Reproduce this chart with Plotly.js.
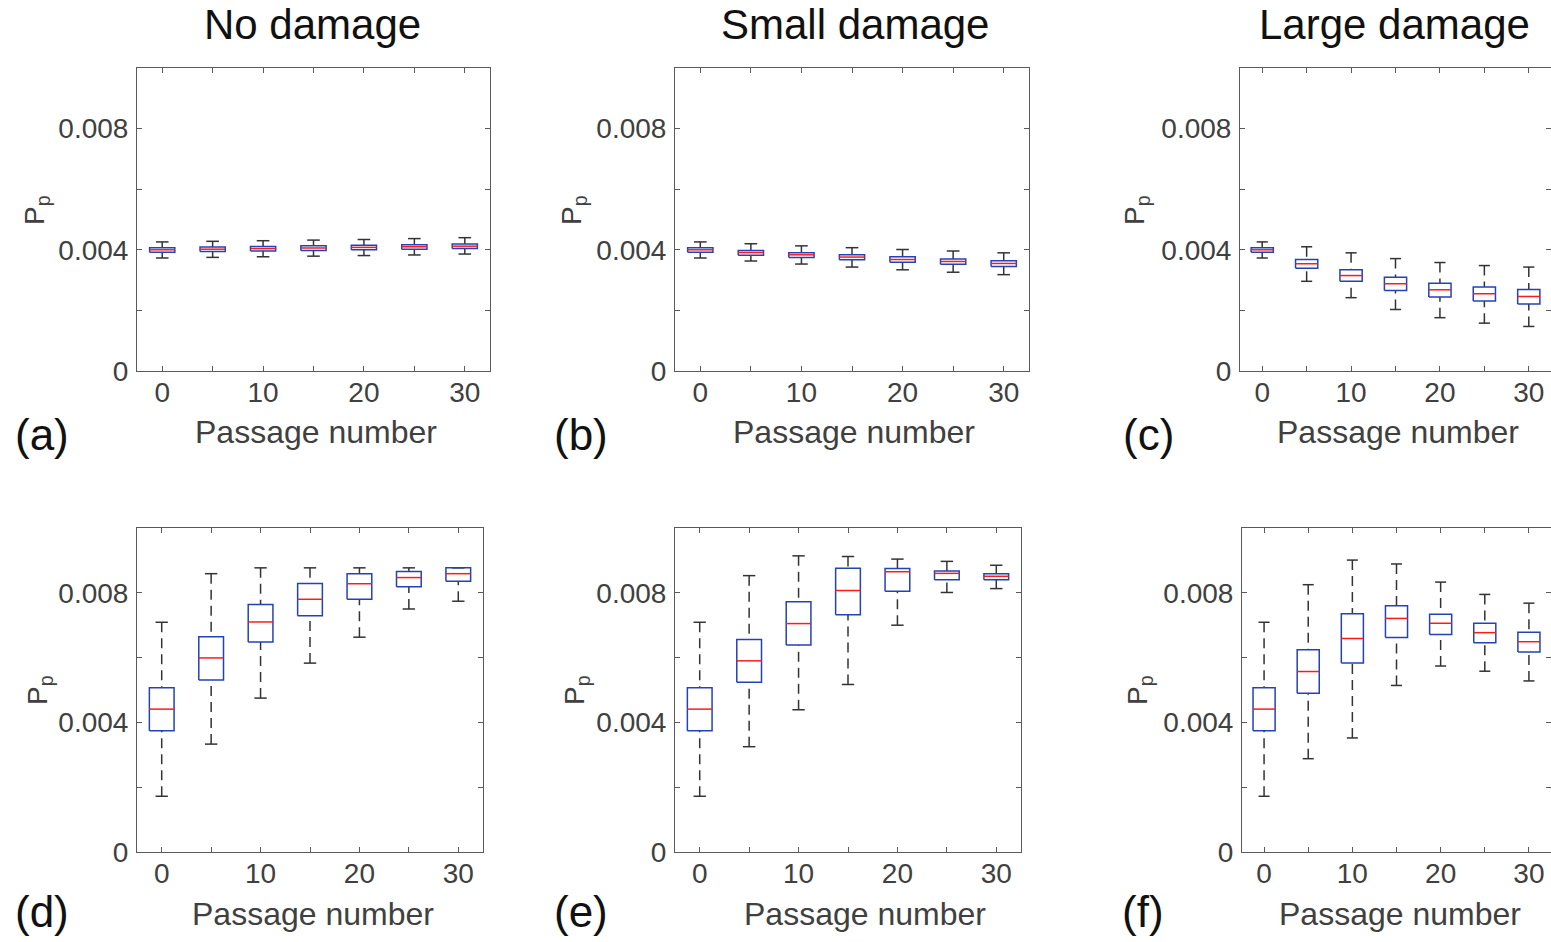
<!DOCTYPE html>
<html>
<head>
<meta charset="utf-8">
<script src="https://cdn.plot.ly/plotly-3.0.1.min.js"></script>
<style>html,body{margin:0;padding:0;background:#fff;}#chart{width:1551px;height:942px;}</style>
</head>
<body>
<div id="chart"></div>
<script>
// ---- data ----
const passages = [0, 5, 10, 15, 20, 25, 30];
const xTickVals = [0, 10, 20, 30];
const xTickText = ['0', '10', '20', '30'];
const yTickVals = [0, 0.004, 0.008];
const yTickText = ['0', '0.004', '0.008'];
const columnTitles = ['No damage', 'Small damage', 'Large damage'];
const panelLabels = ['(a)', '(b)', '(c)', '(d)', '(e)', '(f)'];

// (a) no damage, top
const aMed = [0.00400, 0.00402, 0.00404, 0.00406, 0.00408, 0.00410, 0.00412];
const aQ1  = [0.00392, 0.00394, 0.00396, 0.00398, 0.00400, 0.00402, 0.00404];
const aQ3  = [0.00407, 0.00409, 0.00411, 0.00413, 0.00415, 0.00417, 0.00419];
const aLo  = [0.00373, 0.00375, 0.00377, 0.00379, 0.00381, 0.00383, 0.00386];
const aHi  = [0.00426, 0.00428, 0.00430, 0.00432, 0.00434, 0.00437, 0.00440];
// (b) small damage, top
const bMed = [0.00400, 0.00391, 0.003835, 0.00376, 0.00368, 0.003615, 0.00355];
const bQ1  = [0.00392, 0.00382, 0.00375, 0.00367, 0.00359, 0.00352, 0.00345];
const bQ3  = [0.00407, 0.00398, 0.00390, 0.003835, 0.00377, 0.00370, 0.00364];
const bLo  = [0.00373, 0.00363, 0.00353, 0.00343, 0.00334, 0.00326, 0.00318];
const bHi  = [0.00426, 0.00420, 0.00413, 0.00407, 0.00401, 0.00396, 0.00390];
// (c) large damage, top
const cMed = [0.00400, 0.00354, 0.00315, 0.00288, 0.00268, 0.00255, 0.00246];
const cQ1  = [0.00392, 0.00339, 0.00296, 0.00266, 0.00244, 0.00231, 0.00221];
const cQ3  = [0.00407, 0.00368, 0.00334, 0.00309, 0.00290, 0.00277, 0.00269];
const cLo  = [0.00373, 0.00296, 0.00242, 0.00203, 0.00176, 0.00158, 0.00147];
const cHi  = [0.00426, 0.00410, 0.00390, 0.00371, 0.00358, 0.00348, 0.00343];
// (d) no damage, bottom
const dMed = [0.00441, 0.00599, 0.00710, 0.00780, 0.00828, 0.00847, 0.00859];
const dQ1  = [0.00374, 0.00531, 0.00648, 0.00729, 0.00780, 0.00819, 0.00836];
const dQ3  = [0.00507, 0.00664, 0.00764, 0.00829, 0.00859, 0.00866, 0.00877];
const dLo  = [0.00172, 0.00333, 0.00475, 0.00583, 0.00663, 0.00750, 0.00774];
const dHi  = [0.00709, 0.00859, 0.00877, 0.00877, 0.00877, 0.00877, 0.00877];
// (e) small damage, bottom
const eMed = [0.00441, 0.00590, 0.00705, 0.00807, 0.00865, 0.00860, 0.00851];
const eQ1  = [0.00374, 0.00524, 0.00639, 0.00732, 0.00805, 0.00840, 0.00840];
const eQ3  = [0.00507, 0.00656, 0.00772, 0.00876, 0.00875, 0.00867, 0.00859];
const eLo  = [0.00172, 0.00325, 0.00439, 0.00517, 0.00700, 0.00801, 0.00813];
const eHi  = [0.00709, 0.00853, 0.00914, 0.00912, 0.00904, 0.00897, 0.00885];
// (f) large damage, bottom
const fMed = [0.00441, 0.00557, 0.00659, 0.00721, 0.00706, 0.00677, 0.00649];
const fQ1  = [0.00374, 0.00490, 0.00583, 0.00662, 0.00671, 0.00646, 0.00617];
const fQ3  = [0.00507, 0.00624, 0.00735, 0.00760, 0.00734, 0.00706, 0.00678];
const fLo  = [0.00172, 0.00288, 0.00352, 0.00514, 0.00574, 0.00558, 0.00528];
const fHi  = [0.00709, 0.00825, 0.00901, 0.00889, 0.00833, 0.00795, 0.00768];

const panels = [
  {med: aMed, q1: aQ1, q3: aQ3, lo: aLo, hi: aHi},
  {med: bMed, q1: bQ1, q3: bQ3, lo: bLo, hi: bHi},
  {med: cMed, q1: cQ1, q3: cQ3, lo: cLo, hi: cHi},
  {med: dMed, q1: dQ1, q3: dQ3, lo: dLo, hi: dHi},
  {med: eMed, q1: eQ1, q3: eQ3, lo: eLo, hi: eHi},
  {med: fMed, q1: fQ1, q3: fQ3, lo: fLo, hi: fHi}
];

// ---- layout geometry (pixels) ----
const W = 1551, H = 942;
const xDomPx = [[137, 490], [675, 1029], [1240, 1551], [137, 483], [675, 1021], [1242, 1551]];
const yDomPx = [[68, 371], [68, 371], [68, 371], [528, 852], [528, 852], [528, 852]];
const BOX_HW = 1.25, CAP_HW = 0.625;
const FONT = 'Liberation Sans, Arial, Helvetica, sans-serif';
const BLUE = '#2442b8', RED = '#ff1a1a', WHISK = '#333333', AX = '#5a5a5a';

const traces = [];
const layout = {
  width: W, height: H,
  margin: {l: 0, r: 0, t: 0, b: 0},
  paper_bgcolor: '#ffffff', plot_bgcolor: '#ffffff',
  showlegend: false,
  annotations: []
};

panels.forEach((p, i) => {
  const n = i + 1;
  const xa = n === 1 ? 'x' : 'x' + n;
  const ya = n === 1 ? 'y' : 'y' + n;
  const bx = [], by = [], mx = [], my = [], wx = [], wy = [], cx = [], cy = [];
  passages.forEach((x, k) => {
    bx.push(x - BOX_HW, x + BOX_HW, x + BOX_HW, x - BOX_HW, x - BOX_HW, null);
    by.push(p.q1[k], p.q1[k], p.q3[k], p.q3[k], p.q1[k], null);
    mx.push(x - BOX_HW, x + BOX_HW, null);
    my.push(p.med[k], p.med[k], null);
    wx.push(x, x, null, x, x, null);
    wy.push(p.hi[k], p.q3[k], null, p.lo[k], p.q1[k], null);
    cx.push(x - CAP_HW, x + CAP_HW, null, x - CAP_HW, x + CAP_HW, null);
    cy.push(p.hi[k], p.hi[k], null, p.lo[k], p.lo[k], null);
  });
  const common = {type: 'scatter', mode: 'lines', xaxis: xa, yaxis: ya, hoverinfo: 'skip', connectgaps: false};
  traces.push(Object.assign({}, common, {x: wx, y: wy, line: {color: WHISK, width: 1.5, dash: '10px,6px'}}));
  traces.push(Object.assign({}, common, {x: cx, y: cy, line: {color: WHISK, width: 1.5}}));
  traces.push(Object.assign({}, common, {x: bx, y: by, line: {color: BLUE, width: 1.5}}));
  traces.push(Object.assign({}, common, {x: mx, y: my, line: {color: RED, width: 1.5}}));

  const xd = [xDomPx[i][0] / W, xDomPx[i][1] / W];
  const yd = [1 - yDomPx[i][1] / H, 1 - yDomPx[i][0] / H];
  const axCommon = {
    showline: true, linecolor: AX, linewidth: 1, mirror: 'allticks',
    ticks: 'inside', ticklen: 5, tickcolor: AX, tickwidth: 1,
    showgrid: false, zeroline: false, fixedrange: true,
    tickfont: {family: FONT, size: 28, color: '#404040'}
  };
  layout['xaxis' + (n === 1 ? '' : n)] = Object.assign({}, axCommon, {
    domain: xd, anchor: ya, range: [-2.5, 32.5],
    tickmode: 'array', tickvals: xTickVals, ticktext: xTickText, ticklabelstandoff: -4,
    minor: {tickvals: passages, ticks: 'inside', ticklen: 5, tickcolor: AX, showgrid: false}
  });
  layout['yaxis' + (n === 1 ? '' : n)] = Object.assign({}, axCommon, {
    domain: yd, anchor: xa, range: [0, 0.01],
    tickmode: 'array', tickvals: yTickVals, ticktext: yTickText, ticklabelstandoff: 2,
    minor: {tickvals: [0.002, 0.006], ticks: 'inside', ticklen: 5, tickcolor: AX, showgrid: false}
  });
});

// text annotations
const ann = (text, xpx, ypx, size, color, extra) => Object.assign({
  text: text, xref: 'paper', yref: 'paper', x: xpx / W, y: 1 - ypx / H,
  xanchor: 'center', yanchor: 'middle', showarrow: false,
  font: {family: FONT, size: size, color: color}
}, extra || {});

const titleX = [312, 855, 1394];
columnTitles.forEach((t, j) => layout.annotations.push(ann(t, titleX[j], 25, 42, '#111111')));

const passX = [316, 854, 1398, 313, 865, 1400];
const passY = [432, 432, 432, 914, 914, 914];
const labX = [42, 581, 1148, 42, 581, 1143];
const labY = [434, 434, 434, 911, 911, 911];
const ppX = [37, 574, 1137, 39, 576, 1139];
const ppY = [210, 210, 210, 690, 690, 690];
for (let i = 0; i < 6; i++) {
  layout.annotations.push(ann('Passage number', passX[i], passY[i], 32, '#404040'));
  layout.annotations.push(ann(panelLabels[i], labX[i], labY[i], 44, '#111111'));
  layout.annotations.push(ann('P<sub>p</sub>', ppX[i], ppY[i], 28, '#404040', {textangle: -90}));
}

Plotly.newPlot('chart', traces, layout, {staticPlot: true, displayModeBar: false});
</script>
</body>
</html>
